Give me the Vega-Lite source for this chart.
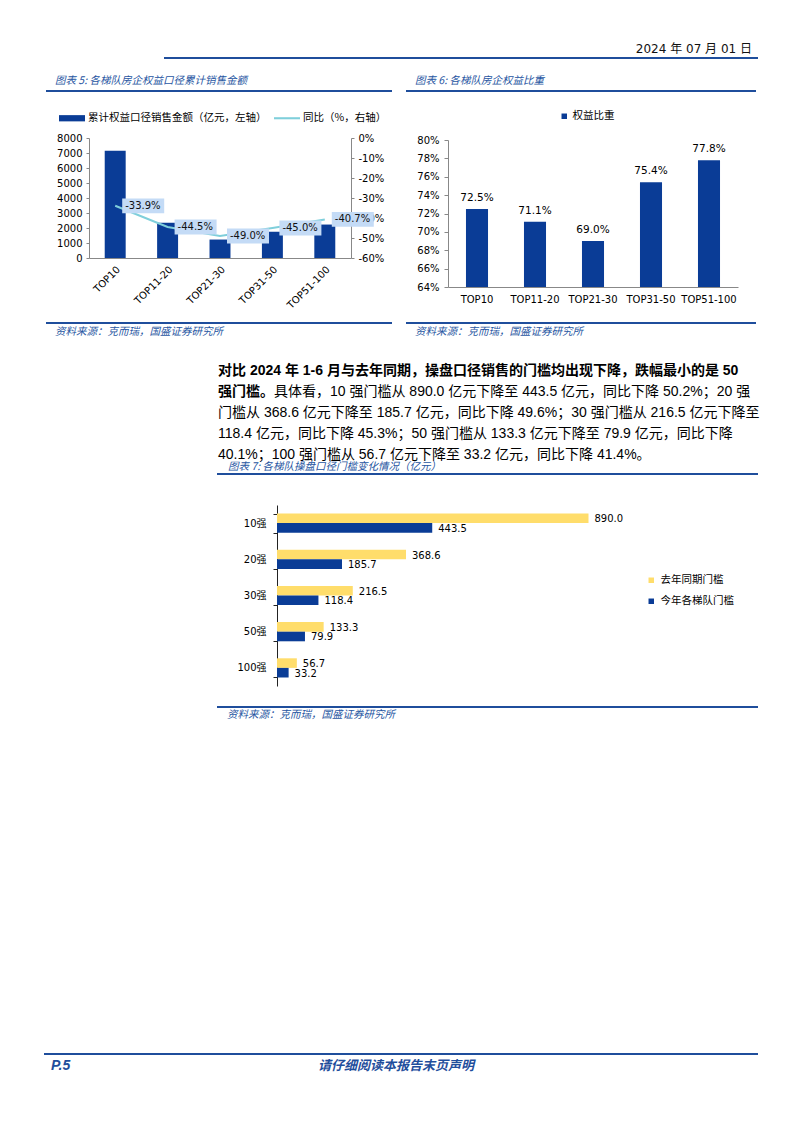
{
"$schema": "https://vega.github.io/schema/vega-lite/v6.json",
"background": "white",
"padding": {"left": 44, "top": 42, "right": 10, "bottom": 10},
"config": {
  "view": {"stroke": null},
  "font": "DejaVu Sans, Noto Sans CJK SC",
  "axis": {"labelFont": "DejaVu Sans, Noto Sans CJK SC", "labelColor": "#000", "labelFontSize": 10, "grid": false, "domainColor": "#888", "tickColor": "#888"},
  "legend": {"labelFont": "DejaVu Sans, Noto Sans CJK SC", "labelColor": "#000"}
},
"spacing": 0,
"bounds": "flush",
"resolve": {"scale": {"color": "independent"}, "legend": {"color": "independent"}},
"vconcat": [
  {"spacing": 0, "bounds": "flush", "hconcat": [
    {"width": 120, "height": 0.01, "data": {"values": [{}]}, "mark": {"type": "text", "text": ""}, "encoding": {}},
    {"width": 592, "height": 0.01, "data": {"values": [{}]}, "mark": {"type": "text", "text": ""}, "encoding": {}, "view": {"stroke": "#1f4e9c", "strokeWidth": 2},
     "title": {"text": "2024 年 07 月 01 日", "orient": "top", "anchor": "end", "frame": "group", "offset": -4, "dx": -5, "font": "DejaVu Sans, Noto Sans CJK SC", "fontSize": 12, "fontWeight": "normal", "color": "#111"}}
  ]},
  {"width": 1, "height": 33, "data": {"values": [{}]}, "mark": {"type": "text", "text": ""}, "encoding": {}},
  {"spacing": 0, "bounds": "flush", "hconcat": [
    {"width": 2, "height": 0.01, "data": {"values": [{}]}, "mark": {"type": "text", "text": ""}, "encoding": {}},
    {"width": 344, "height": 0.01, "data": {"values": [{}]}, "mark": {"type": "text", "text": ""}, "encoding": {}, "view": {"stroke": "#1f4e9c", "strokeWidth": 2},
     "title": {"text": "图表 5:  各梯队房企权益口径累计销售金额", "orient": "top", "anchor": "start", "frame": "group", "offset": -1, "dx": 8, "font": "Noto Sans CJK SC", "fontSize": 10.5, "fontStyle": "italic", "fontWeight": "normal", "color": "#2756a2"}},
    {"width": 16, "height": 0.01, "data": {"values": [{}]}, "mark": {"type": "text", "text": ""}, "encoding": {}},
    {"width": 348, "height": 0.01, "data": {"values": [{}]}, "mark": {"type": "text", "text": ""}, "encoding": {}, "view": {"stroke": "#1f4e9c", "strokeWidth": 2},
     "title": {"text": "图表 6:  各梯队房企权益比重", "orient": "top", "anchor": "start", "frame": "group", "offset": -1, "dx": 8, "font": "Noto Sans CJK SC", "fontSize": 10.5, "fontStyle": "italic", "fontWeight": "normal", "color": "#2756a2"}}
  ]},
  {"width": 1, "height": 47, "data": {"values": [{}]}, "mark": {"type": "text", "text": ""}, "encoding": {}},
  {"spacing": 0, "bounds": "flush", "resolve": {"scale": {"color": "independent"}, "legend": {"color": "independent"}}, "hconcat": [
    {"width": 44, "height": 0.01, "data": {"values": [{}]}, "mark": {"type": "text", "text": ""}, "encoding": {}},
    {
      "width": 262, "height": 120,
      "data": {"values": [
        {"tier": "TOP10", "sales": 7150, "yoy": -33.9, "yoyLabel": "-33.9%"},
        {"tier": "TOP11-20", "sales": 2350, "yoy": -44.5, "yoyLabel": "-44.5%"},
        {"tier": "TOP21-30", "sales": 1230, "yoy": -49.0, "yoyLabel": "-49.0%"},
        {"tier": "TOP31-50", "sales": 1750, "yoy": -45.0, "yoyLabel": "-45.0%"},
        {"tier": "TOP51-100", "sales": 2230, "yoy": -40.7, "yoyLabel": "-40.7%"}
      ]},
      "encoding": {"x": {"field": "tier", "type": "nominal", "sort": null, "scale": {"paddingInner": 0.6, "paddingOuter": 0.3},
        "axis": {"title": null, "labelAngle": -45, "labelFontSize": 10, "ticks": false, "labelPadding": 6}}},
      "layer": [
        {"mark": {"type": "bar"},
         "encoding": {
           "y": {"field": "sales", "type": "quantitative", "scale": {"domain": [0, 8000]},
                 "axis": {"title": null, "values": [0, 1000, 2000, 3000, 4000, 5000, 6000, 7000, 8000], "format": "d", "tickSize": 3, "labelPadding": 4}},
           "color": {"datum": "累计权益口径销售金额（亿元，左轴）", "type": "nominal",
             "scale": {"domain": ["累计权益口径销售金额（亿元，左轴）", "同比（%，右轴）"], "range": ["#0a3c96", "#7fcfdb"]},
             "legend": {"title": null, "orient": "none", "legendX": -30, "legendY": -33, "direction": "horizontal",
               "symbolSize": 676, "labelFontSize": 10.5, "labelOffset": 3, "columnPadding": 7, "labelLimit": 400,
               "labelFont": "Noto Sans CJK SC",
               "encode": {"symbols": {"update": {
                 "shape": {"signal": "datum.value === '同比（%，右轴）' ? 'M-1,-0.08H1V0.08H-1Z' : 'M-1,-0.24H1V0.24H-1Z'"},
                 "fill": {"signal": "datum.value === '同比（%，右轴）' ? '#7fcfdb' : '#0a3c96'"},
                 "strokeWidth": {"value": 0},
                 "opacity": {"value": 1}}}}}
           }
         }},
        {"encoding": {"y": {"field": "yoy", "type": "quantitative", "scale": {"domain": [-60, 0]},
            "axis": {"orient": "right", "title": null, "values": [-60, -50, -40, -30, -20, -10, 0], "labelExpr": "datum.value + '%'", "tickSize": 3, "labelPadding": 4}}},
         "layer": [
           {"mark": {"type": "line", "strokeWidth": 2}, "encoding": {"color": {"datum": "同比（%，右轴）", "type": "nominal"}}},
           {"mark": {"type": "point", "shape": "M0.35,-0.37H2.45V0.37H0.35Z", "filled": true, "size": 1600, "color": "#c4dbf6", "opacity": 1, "strokeWidth": 0}},
           {"mark": {"type": "text", "align": "left", "dx": 10, "baseline": "middle", "fontSize": 10, "color": "#111"}, "encoding": {"text": {"field": "yoyLabel"}}}
         ]}
      ],
      "resolve": {"scale": {"y": "independent"}}
    },
    {"width": 97, "height": 0.01, "data": {"values": [{}]}, "mark": {"type": "text", "text": ""}, "encoding": {}},
    {"spacing": 0, "bounds": "flush", "resolve": {"scale": {"color": "independent"}, "legend": {"color": "independent"}}, "vconcat": [
      {"width": 1, "height": 2, "data": {"values": [{}]}, "mark": {"type": "text", "text": ""}, "encoding": {}},
      {
        "width": 290, "height": 147,
        "data": {"values": [
          {"tier": "TOP10", "share": 0.725},
          {"tier": "TOP11-20", "share": 0.711},
          {"tier": "TOP21-30", "share": 0.690},
          {"tier": "TOP31-50", "share": 0.754},
          {"tier": "TOP51-100", "share": 0.778}
        ]},
        "encoding": {
          "x": {"field": "tier", "type": "nominal", "sort": null, "scale": {"paddingInner": 0.62, "paddingOuter": 0.31},
                "axis": {"title": null, "labelAngle": 0, "labelFontSize": 10, "ticks": false, "labelPadding": 7}},
          "y": {"field": "share", "type": "quantitative", "scale": {"domain": [0.64, 0.80], "zero": false},
                "axis": {"title": null, "values": [0.64, 0.66, 0.68, 0.70, 0.72, 0.74, 0.76, 0.78, 0.80], "format": ".0%", "tickSize": 4, "labelPadding": 5}}
        },
        "layer": [
          {"mark": {"type": "bar"},
           "encoding": {"y2": {"datum": 0.64},
             "color": {"datum": "权益比重", "type": "nominal", "scale": {"domain": ["权益比重"], "range": ["#0a3c96"]},
               "legend": {"title": null, "orient": "none", "legendX": 111, "legendY": -29, "symbolType": "square", "symbolSize": 30,
                 "labelFontSize": 10.5, "labelOffset": 3, "labelFont": "Noto Sans CJK SC"}}}},
          {"mark": {"type": "text", "baseline": "bottom", "dy": -6, "fontSize": 10.5, "color": "#000"},
           "encoding": {"text": {"field": "share", "type": "quantitative", "format": ".1%"}}}
        ]
      }
    ]}
  ]},
  {"width": 1, "height": 185, "data": {"values": [{}]}, "mark": {"type": "text", "text": ""}, "encoding": {}},
  {"spacing": 0, "bounds": "flush", "hconcat": [
    {"width": 2, "height": 0.01, "data": {"values": [{}]}, "mark": {"type": "text", "text": ""}, "encoding": {}},
    {"width": 344, "height": 0.01, "data": {"values": [{}]}, "mark": {"type": "text", "text": ""}, "encoding": {}, "view": {"stroke": "#1f4e9c", "strokeWidth": 2},
     "title": {"text": "资料来源：克而瑞，国盛证券研究所", "orient": "bottom", "anchor": "start", "frame": "group", "baseline": "top", "offset": -1, "dx": 8, "font": "Noto Sans CJK SC", "fontSize": 10.5, "fontStyle": "italic", "fontWeight": "normal", "color": "#2756a2"}},
    {"width": 16, "height": 0.01, "data": {"values": [{}]}, "mark": {"type": "text", "text": ""}, "encoding": {}},
    {"width": 348, "height": 0.01, "data": {"values": [{}]}, "mark": {"type": "text", "text": ""}, "encoding": {}, "view": {"stroke": "#1f4e9c", "strokeWidth": 2},
     "title": {"text": "资料来源：克而瑞，国盛证券研究所", "orient": "bottom", "anchor": "start", "frame": "group", "baseline": "top", "offset": -1, "dx": 8, "font": "Noto Sans CJK SC", "fontSize": 10.5, "fontStyle": "italic", "fontWeight": "normal", "color": "#2756a2"}}
  ]},
  {"width": 1, "height": 34, "data": {"values": [{}]}, "mark": {"type": "text", "text": ""}, "encoding": {}},
  {"spacing": 0, "bounds": "flush", "hconcat": [
    {"width": 173, "height": 0.01, "data": {"values": [{}]}, "mark": {"type": "text", "text": ""}, "encoding": {}},
    {"width": 539, "height": 0.01, "data": {"values": [{}]}, "mark": {"type": "text", "text": ""}, "encoding": {},
     "title": {"text": ["\u200b　", "\u200b　　　　具体看，10 强门槛从 890.0 亿元下降至 443.5 亿元，同比下降 50.2%；20 强", "门槛从 368.6 亿元下降至 185.7 亿元，同比下降 49.6%；30 强门槛从 216.5 亿元下降至", "118.4 亿元，同比下降 45.3%；50 强门槛从 133.3 亿元下降至 79.9 亿元，同比下降", "40.1%；100 强门槛从 56.7 亿元下降至 33.2 亿元，同比下降 41.4%。"],
       "orient": "bottom", "anchor": "start", "frame": "group", "baseline": "top", "offset": 2, "lineHeight": 21, "font": "Liberation Sans, Noto Sans CJK SC", "fontSize": 14, "fontWeight": "normal", "color": "#000"}}
  ]},
  {"spacing": 0, "bounds": "flush", "hconcat": [
    {"width": 173, "height": 0.01, "data": {"values": [{}]}, "mark": {"type": "text", "text": ""}, "encoding": {}},
    {"width": 539, "height": 0.01, "data": {"values": [{}]}, "mark": {"type": "text", "text": ""}, "encoding": {},
     "title": {"text": ["对比 2024 年 1-6 月与去年同期，操盘口径销售的门槛均出现下降，跌幅最小的是 50", "强门槛。"],
       "orient": "bottom", "anchor": "start", "frame": "group", "baseline": "top", "offset": 2, "lineHeight": 21, "font": "Liberation Sans, Noto Sans CJK SC", "fontSize": 14, "fontWeight": "bold", "color": "#000"}}
  ]},
  {"width": 1, "height": 117, "data": {"values": [{}]}, "mark": {"type": "text", "text": ""}, "encoding": {}},
  {"spacing": 0, "bounds": "flush", "hconcat": [
    {"width": 173, "height": 0.01, "data": {"values": [{}]}, "mark": {"type": "text", "text": ""}, "encoding": {}},
    {"width": 539, "height": 0.01, "data": {"values": [{}]}, "mark": {"type": "text", "text": ""}, "encoding": {}, "view": {"stroke": "#1f4e9c", "strokeWidth": 2},
     "title": {"text": "图表 7:  各梯队操盘口径门槛变化情况（亿元）", "orient": "top", "anchor": "start", "frame": "group", "offset": -4, "dx": 10, "font": "Noto Sans CJK SC", "fontSize": 10.5, "fontStyle": "italic", "fontWeight": "normal", "color": "#2756a2"}}
  ]},
  {"width": 1, "height": 31, "data": {"values": [{}]}, "mark": {"type": "text", "text": ""}, "encoding": {}},
  {"spacing": 0, "bounds": "flush", "resolve": {"scale": {"color": "independent"}, "legend": {"color": "independent"}}, "hconcat": [
    {"width": 232, "height": 0.01, "data": {"values": [{}]}, "mark": {"type": "text", "text": ""}, "encoding": {}},
    {
      "width": 350, "height": 181,
      "data": {"values": [
        {"tier": "10强", "series": "去年同期门槛", "v": 890.0},
        {"tier": "10强", "series": "今年各梯队门槛", "v": 443.5},
        {"tier": "20强", "series": "去年同期门槛", "v": 368.6},
        {"tier": "20强", "series": "今年各梯队门槛", "v": 185.7},
        {"tier": "30强", "series": "去年同期门槛", "v": 216.5},
        {"tier": "30强", "series": "今年各梯队门槛", "v": 118.4},
        {"tier": "50强", "series": "去年同期门槛", "v": 133.3},
        {"tier": "50强", "series": "今年各梯队门槛", "v": 79.9},
        {"tier": "100强", "series": "去年同期门槛", "v": 56.7},
        {"tier": "100强", "series": "今年各梯队门槛", "v": 33.2}
      ]},
      "encoding": {
        "y": {"field": "tier", "type": "nominal", "sort": null, "scale": {"paddingInner": 0.47, "paddingOuter": 0.235},
              "axis": {"title": null, "labelFontSize": 10, "tickBand": "extent", "tickSize": 4, "tickColor": "#222", "domainColor": "#222", "labelPadding": 7}},
        "yOffset": {"field": "series", "type": "nominal", "sort": ["去年同期门槛", "今年各梯队门槛"]},
        "x": {"field": "v", "type": "quantitative", "scale": {"domain": [0, 1000]}, "axis": null}
      },
      "layer": [
        {"mark": {"type": "bar"},
         "encoding": {"color": {"field": "series", "type": "nominal", "sort": ["去年同期门槛", "今年各梯队门槛"],
           "scale": {"domain": ["去年同期门槛", "今年各梯队门槛"], "range": ["#ffdd6b", "#0a3c96"]},
           "legend": {"title": null, "orient": "none", "legendX": 369, "legendY": 70, "direction": "vertical", "symbolType": "square", "symbolSize": 30,
             "labelFontSize": 10.5, "labelOffset": 4, "rowPadding": 10, "labelFont": "Noto Sans CJK SC"}}}},
        {"mark": {"type": "text", "align": "left", "dx": 6, "dy": 1, "baseline": "middle", "fontSize": 10, "color": "#000"},
         "encoding": {"text": {"field": "v", "type": "quantitative", "format": ".1f"}}}
      ]
    }
  ]},
  {"width": 1, "height": 202, "data": {"values": [{}]}, "mark": {"type": "text", "text": ""}, "encoding": {}},
  {"spacing": 0, "bounds": "flush", "hconcat": [
    {"width": 173, "height": 0.01, "data": {"values": [{}]}, "mark": {"type": "text", "text": ""}, "encoding": {}},
    {"width": 539, "height": 0.01, "data": {"values": [{}]}, "mark": {"type": "text", "text": ""}, "encoding": {}, "view": {"stroke": "#1f4e9c", "strokeWidth": 2},
     "title": {"text": "资料来源：克而瑞，国盛证券研究所", "orient": "bottom", "anchor": "start", "frame": "group", "baseline": "top", "offset": -2, "dx": 9, "font": "Noto Sans CJK SC", "fontSize": 10.5, "fontStyle": "italic", "fontWeight": "normal", "color": "#2756a2"}}
  ]},
  {"width": 1, "height": 347, "data": {"values": [{}]}, "mark": {"type": "text", "text": ""}, "encoding": {}},
  {"spacing": 0, "bounds": "flush", "hconcat": [
    {"width": 356, "height": 0.01, "data": {"values": [{}]}, "mark": {"type": "text", "text": ""}, "encoding": {}, "view": {"stroke": "#1f4e9c", "strokeWidth": 2},
     "title": {"text": "P.5", "orient": "bottom", "anchor": "start", "frame": "group", "baseline": "top", "offset": 0, "dx": 6, "font": "Liberation Sans", "fontSize": 14, "fontStyle": "italic", "fontWeight": "bold", "color": "#1f4e9c"}},
    {"width": 356, "height": 0.01, "data": {"values": [{}]}, "mark": {"type": "text", "text": ""}, "encoding": {}, "view": {"stroke": "#1f4e9c", "strokeWidth": 2},
     "title": {"text": "请仔细阅读本报告末页声明", "orient": "bottom", "anchor": "start", "frame": "group", "baseline": "top", "offset": 1, "dx": -83, "font": "Noto Sans CJK SC", "fontSize": 13, "fontStyle": "italic", "fontWeight": "bold", "color": "#1f4e9c"}}
  ]}
]
}
